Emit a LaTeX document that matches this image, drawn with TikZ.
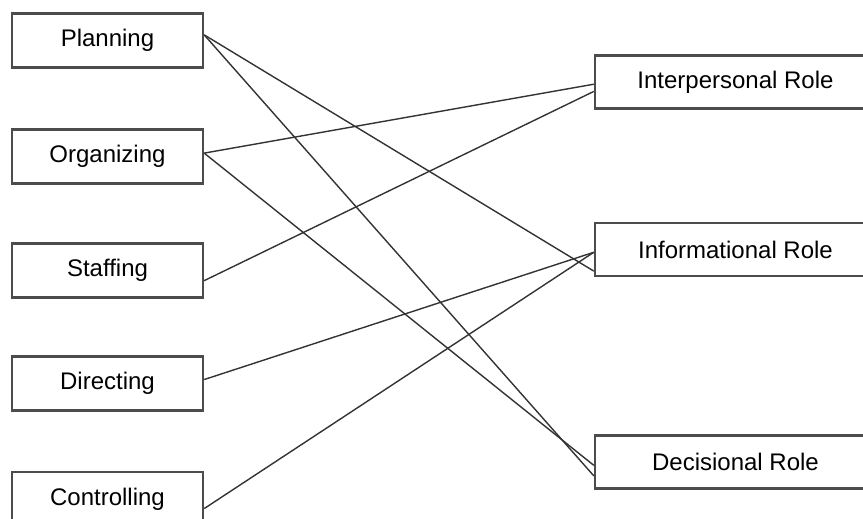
\documentclass[tikz,border=0pt]{standalone}
\usepackage{fontspec}
\setmainfont{Liberation Sans}
\usetikzlibrary{calc}
\begin{document}
\begin{tikzpicture}[x=0.5pt,y=-0.5pt,
  box/.style={draw=black!70,line width=1.2pt,fill=white,rectangle,
    inner sep=0pt,font=\fontsize{12}{14}\selectfont},
  fnbox/.style={box,minimum width=95.5pt,minimum height=27pt},
  rolebox/.style={box,minimum width=140.5pt,minimum height=26.5pt},
  link/.style={draw=black!80,line width=0.7pt}]
\useasboundingbox (0,0) rectangle (863,519);
% management functions
\node[fnbox] (plan) at (107.5,40.5) {Planning};
\node[fnbox] (org)  at (107.5,156.5) {Organizing};
\node[fnbox] (staff) at (107.5,270.5) {Staffing};
\node[fnbox] (dir)  at (107.5,383.5) {Directing};
\node[fnbox] (ctrl) at (107.5,499) {Controlling};
% managerial roles
\node[rolebox] (inter) at (735.5,82) {Interpersonal Role};
\node[rolebox] (info)  at (735.5,249.5) {Informational Role};
\node[rolebox] (dec)   at (735.5,462) {Decisional Role};
% connectors
\draw[link] ($(plan.north east)!0.4!(plan.south east)$) -- ($(info.north west)!0.89!(info.south west)$);
\draw[link] ($(plan.north east)!0.4!(plan.south east)$) -- ($(dec.north west)!0.75!(dec.south west)$);
\draw[link] ($(org.north east)!0.44!(org.south east)$) -- ($(inter.north west)!0.54!(inter.south west)$);
\draw[link] ($(org.north east)!0.44!(org.south east)$) -- ($(dec.north west)!0.56!(dec.south west)$);
\draw[link] ($(staff.north east)!0.68!(staff.south east)$) -- ($(inter.north west)!0.67!(inter.south west)$);
\draw[link] ($(dir.north east)!0.43!(dir.south east)$) -- ($(info.north west)!0.55!(info.south west)$);
\draw[link] ($(ctrl.north east)!0.67!(ctrl.south east)$) -- ($(info.north west)!0.55!(info.south west)$);
\end{tikzpicture}
\end{document}
